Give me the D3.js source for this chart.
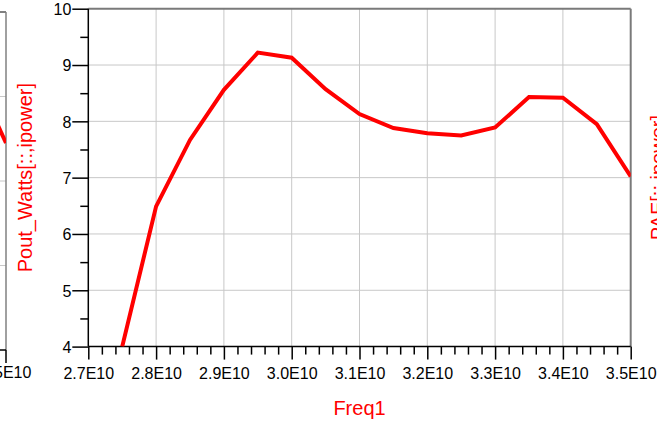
<!DOCTYPE html>
<html>
<head>
<meta charset="utf-8">
<script src="https://cdn.jsdelivr.net/npm/d3@7"></script>
<style>
  html, body { margin: 0; padding: 0; background: #fff; }
  svg { display: block; font-family: "Liberation Sans", Arial, sans-serif; }
</style>
</head>
<body>
<svg id="chart" width="657" height="424"></svg>
<script>
// Swept output power versus frequency
const freq = [2.75e10, 2.8e10, 2.85e10, 2.9e10, 2.95e10, 3.0e10, 3.05e10, 3.1e10,
              3.15e10, 3.2e10, 3.25e10, 3.3e10, 3.35e10, 3.4e10, 3.45e10, 3.5e10];
const poutWatts = [4.0, 6.49, 7.67, 8.56, 9.22, 9.13, 8.57, 8.13,
                   7.88, 7.79, 7.75, 7.89, 8.43, 8.42, 7.95, 7.02];
const xTicks = [2.7e10, 2.8e10, 2.9e10, 3.0e10, 3.1e10, 3.2e10, 3.3e10, 3.4e10, 3.5e10];
const yTicks = [4, 5, 6, 7, 8, 9, 10];
const xLabel = "Freq1";
const yLabel = "Pout_Watts[::,ipower]";

// Neighbouring panels (only their edges fall inside this view)
const prevFreq = [3.45e10, 3.5e10];
const prevValues = [26.65, 24.9];
const prevTicks = [20, 22, 24, 26, 28];
const nextLabel = "PAE[::,ipower]";

const svg = d3.select("#chart");
const plotL = 88.3, plotR = 630.7, plotT = 8.7, plotB = 346.6;

const x = d3.scaleLinear().domain([2.7e10, 3.5e10]).range([plotL, plotR]);
const y = d3.scaleLinear().domain([4, 10]).range([plotB, plotT]);
const fmt = d => (d / 1e10).toFixed(1) + "E10";

// ---- previous panel edge (left) ----
const px = d3.scaleLinear().domain([2.7e10, 3.5e10]).range([6 - (plotR - plotL), 6]);
const py = d3.scaleLinear().domain([20, 28]).range([350, 12]);
const prev = svg.append("g");
prev.selectAll("line.pg").data(prevTicks.slice(1, -1)).join("line")
  .attr("x1", 0).attr("x2", 6).attr("y1", d => py(d)).attr("y2", d => py(d))
  .attr("stroke", "#c8c8c8").attr("stroke-width", 1);
prev.append("line").attr("x1", 0).attr("x2", 6).attr("y1", py(28)).attr("y2", py(28))
  .attr("stroke", "#808080").attr("stroke-width", 2);
prev.append("line").attr("x1", 6).attr("x2", 6).attr("y1", py(28)).attr("y2", py(20))
  .attr("stroke", "#808080").attr("stroke-width", 1.5);
prev.append("line").attr("x1", 0).attr("x2", 6).attr("y1", py(20)).attr("y2", py(20))
  .attr("stroke", "#000").attr("stroke-width", 1.5);
prev.append("line").attr("x1", 6).attr("x2", 6).attr("y1", py(20)).attr("y2", py(20) + 13)
  .attr("stroke", "#000").attr("stroke-width", 1.5);
prev.append("text").attr("x", px(3.5e10)).attr("y", 378)
  .attr("text-anchor", "middle").attr("font-size", 16).attr("fill", "#000")
  .text(fmt(3.5e10));
prev.append("clipPath").attr("id", "prevclip").append("rect")
  .attr("x", 0).attr("y", py(28)).attr("width", 6).attr("height", py(20) - py(28));
prev.append("path")
  .datum(prevFreq.map((f, i) => [f, prevValues[i]]))
  .attr("clip-path", "url(#prevclip)")
  .attr("fill", "none").attr("stroke", "#ff0000").attr("stroke-width", 4)
  .attr("d", d3.line().x(d => px(d[0])).y(d => py(d[1])));

// ---- grid ----
const grid = svg.append("g");
grid.selectAll("line.h").data(yTicks.slice(1, -1)).join("line")
  .attr("x1", plotL).attr("x2", plotR).attr("y1", d => y(d)).attr("y2", d => y(d))
  .attr("stroke", "#c8c8c8").attr("stroke-width", 1);
grid.selectAll("line.v").data(xTicks.slice(1, -1)).join("line")
  .attr("x1", d => x(d)).attr("x2", d => x(d)).attr("y1", plotT).attr("y2", plotB)
  .attr("stroke", "#c8c8c8").attr("stroke-width", 1);

// frame: top and right edges
svg.append("line").attr("x1", plotL).attr("x2", plotR).attr("y1", plotT).attr("y2", plotT)
  .attr("stroke", "#7a7a7a").attr("stroke-width", 2);
svg.append("line").attr("x1", plotR).attr("x2", plotR).attr("y1", plotT).attr("y2", plotB)
  .attr("stroke", "#7a7a7a").attr("stroke-width", 2);

// ---- axes ----
const yMinor = d3.range(4.5, 10, 1);
const yAxisMinor = svg.append("g").attr("transform", `translate(${plotL},0)`)
  .call(d3.axisLeft(y).tickValues(yMinor).tickSize(8).tickFormat(""));
const yAxis = svg.append("g").attr("transform", `translate(${plotL},0)`)
  .call(d3.axisLeft(y).tickValues(yTicks).tickSize(16).tickPadding(1).tickFormat(d3.format("d")));

const xMinor = d3.range(0, 41).map(i => 2.7e10 + i * 0.02e10).filter((d, i) => i % 5 !== 0);
const xAxisMinor = svg.append("g").attr("transform", `translate(0,${plotB})`)
  .call(d3.axisBottom(x).tickValues(xMinor).tickSize(8).tickFormat(""));
const xAxis = svg.append("g").attr("transform", `translate(0,${plotB})`)
  .call(d3.axisBottom(x).tickValues(xTicks).tickSize(13).tickPadding(8).tickFormat(fmt));

for (const g of [yAxis, yAxisMinor, xAxis, xAxisMinor]) {
  g.select(".domain").remove();
  g.selectAll(".tick line").attr("stroke", "#000").attr("stroke-width", 1.5);
  g.selectAll("text").attr("font-size", 16).attr("fill", "#000")
    .attr("font-family", "'Liberation Sans', Arial, sans-serif");
}
yAxis.selectAll(".tick text").attr("dy", "0.36em");
xAxis.selectAll(".tick text").attr("dy", "0.72em");

svg.append("line").attr("x1", plotL).attr("x2", plotL).attr("y1", plotT).attr("y2", plotB)
  .attr("stroke", "#000").attr("stroke-width", 1.5);
svg.append("line").attr("x1", plotL).attr("x2", plotR).attr("y1", plotB).attr("y2", plotB)
  .attr("stroke", "#000").attr("stroke-width", 1.5);

// ---- trace ----
svg.append("clipPath").attr("id", "plotclip").append("rect")
  .attr("x", plotL).attr("y", plotT).attr("width", plotR - plotL).attr("height", plotB - plotT);
svg.append("path")
  .datum(freq.map((f, i) => [f, poutWatts[i]]))
  .attr("clip-path", "url(#plotclip)")
  .attr("fill", "none").attr("stroke", "#ff0000").attr("stroke-width", 4)
  .attr("stroke-linejoin", "miter")
  .attr("d", d3.line().x(d => x(d[0])).y(d => y(d[1])));

// ---- axis titles ----
svg.append("text").attr("x", (plotL + plotR) / 2).attr("y", 415)
  .attr("text-anchor", "middle").attr("font-size", 20).attr("fill", "#ff0000")
  .text(xLabel);
svg.append("text")
  .attr("transform", `translate(32,${(plotT + plotB) / 2}) rotate(-90)`)
  .attr("text-anchor", "middle").attr("font-size", 20).attr("fill", "#ff0000")
  .text(yLabel);
svg.append("text")
  .attr("transform", `translate(664.5,${(plotT + plotB) / 2}) rotate(-90)`)
  .attr("text-anchor", "middle").attr("font-size", 20).attr("fill", "#ff0000")
  .text(nextLabel);
</script>
</body>
</html>
